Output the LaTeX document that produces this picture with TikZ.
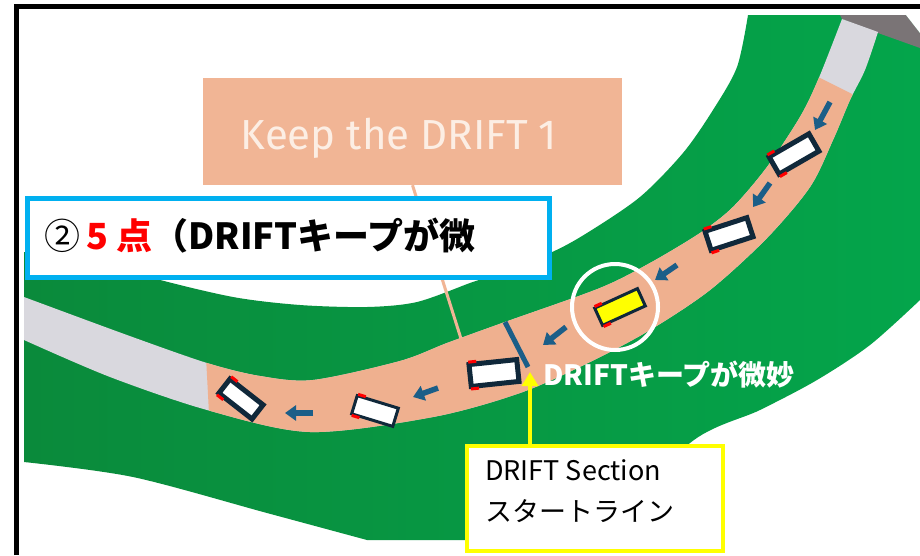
\documentclass[tikz,border=0pt]{standalone}
\usepackage{fontspec}
\newfontfamily\jpfont{Noto Sans CJK JP}
\newfontfamily\signfont{Fira Sans}
\usetikzlibrary{arrows.meta,calc}

\definecolor{grassdark}{HTML}{0A8A3B}
\definecolor{grasslight}{HTML}{04A54B}
\definecolor{driftzone}{HTML}{EFB08F}
\definecolor{asphalt}{HTML}{D9D8DE}
\definecolor{runoff}{HTML}{7A7476}
\definecolor{signpeach}{HTML}{F1B595}
\definecolor{signink}{HTML}{FCEEE4}
\definecolor{carnavy}{HTML}{10283A}
\definecolor{flowblue}{HTML}{1B5E88}
\definecolor{framecyan}{HTML}{00B0F0}
\definecolor{markyellow}{HTML}{FFFF00}

% grass band: inner edge, left side, outer edge
\newcommand{\grass}{plot[smooth] coordinates {(748,15) (737,67) (713,110) (683,153) (640,197) (587,233) (550,253) (490,276) (470,283) (417,302) (367,307) (300,305) (233,297) (153,278) (110,262) (24,252)} -- (24,462) -- plot[smooth] coordinates {(24,462) (133,477) (267,513) (367,540)} -- (600,540) -- plot[smooth] coordinates {(600,540) (690,443) (760,410) (817,380) (870,345) (920,300)} -- (920,15) -- cycle}
% track: inner edge down to the left, outer edge back up
\newcommand{\track}{plot[smooth] coordinates {(842,19) (818,80) (800,117) (767,167) (733,207) (700,233) (650,263) (600,288) (505,322) (447,343) (400,361) (313,380) (260,376) (207,363) (127,335) (24,297)} -- (24,340) -- plot[smooth] coordinates {(24,340) (110,377) (207,410) (310,432) (433,417) (520,393) (590,362) (650,330) (710,290) (767,238) (810,187) (833,140) (850,100) (865,70) (878,32)} -- cycle}

\begin{document}
\begin{tikzpicture}[x=1pt,y=-1pt,
  car/.style={draw=carnavy, fill=white, line width=5pt, inner sep=0pt},
  tail/.style={red, line width=3pt},
  flow/.style={flowblue, line width=5.5pt, -{Triangle[width=15pt,length=11pt]}},
  gate/.style={flowblue, line width=5pt},
  pointer/.style={markyellow, line width=4pt, -{Triangle[width=16pt,length=14pt]}}]

	\useasboundingbox (0,0) rectangle (920,555);
	\fill[white] (0,0) rectangle (920,555);
	\draw[line width=5pt] (16.5,555) -- (16.5,6) -- (920,6);

	% ground
	\shade[left color=grassdark, right color=grasslight] \grass;
	\fill[runoff] (840,15) -- (906,15) -- (920,33) -- (920,48) -- (878,33) -- (842,19) -- cycle;
	\fill[white] (906,15) -- (920,15) -- (920,33) -- cycle;

	% sign and its post
	\node[fill=signpeach, minimum width=419pt, minimum height=107pt, inner sep=0pt] (sign) at (412.5,131.5) {};
	\node[text=signink, font=\signfont\fontsize{42}{42}\selectfont] (signtext) at (399,138) {Keep the DRIFT 1};
	\coordinate (signfoot) at (463,345);
	\draw[signpeach, line width=3pt] (sign.south) -- (signfoot);

	% track, grey at both ends
	\fill[asphalt] \track;
	\begin{scope}
		\clip (203,300) -- (212,470) -- (920,470) -- (920,128) -- (760,48) -- (203,48) -- cycle;
		\fill[driftzone] \track;
	\end{scope}

	\coordinate (gatetop) at (505,322);
	\coordinate (gatefoot) at (528,367);
	\draw[gate] (gatetop) -- (gatefoot);

	\foreach \ax/\ay/\bx/\by in {830/102/815/130, 770/183/753/207, 677/265/655/280,
		566/327/543/345, 438/388/413/397, 313/413/285/413}
		\draw[flow] (\ax,\ay) -- (\bx,\by);

	% cars
	\node[car, rotate=30, minimum width=46pt, minimum height=20pt] (c1) at (794,154) {};
	\node[car, rotate=18, minimum width=44pt, minimum height=20pt] (c2) at (729,234) {};
	\node[car, line width=3pt, fill=markyellow, rotate=24.5, minimum width=47pt, minimum height=19pt] (c3) at (620,307) {};
	\node[car, rotate=6, minimum width=48pt, minimum height=22pt] (c4) at (494,373) {};
	\node[car, line width=3pt, rotate=-17, minimum width=43pt, minimum height=19pt] (c5) at (375,411) {};
	\node[car, rotate=-38, minimum width=42pt, minimum height=18pt] (c6) at (241,399) {};
	\foreach \c in {c1,c2,c3,c4,c5,c6} {
		\draw[tail] ($(\c.north west)!2pt!(\c.north east)$) -- ($(\c.north west)!10pt!(\c.north east)$);
		\draw[tail] ($(\c.south west)!2pt!(\c.south east)$) -- ($(\c.south west)!10pt!(\c.south east)$);
	}
	\node[draw=white, line width=4pt, circle, minimum size=86pt, inner sep=0pt] (ring) at (615,307) {};

	% captions
	\node[draw=framecyan, fill=white, line width=5pt, minimum width=522pt, minimum height=79pt, inner sep=0pt, anchor=north west] (score) at (24.5,195.5) {};
	\node[anchor=west, inner sep=0pt, font=\jpfont\bfseries\fontsize{36}{40}\selectfont] (scoretext) at (44,236) {{\mdseries ②}\hspace{6pt}{\color{red}5 点}（DRIFTキープが微};
	\node[anchor=west, inner sep=0pt, text=white, font=\jpfont\bfseries\fontsize{28}{30}\selectfont] (note) at (543,375) {DRIFTキープが微妙};

	\node[draw=markyellow, fill=white, line width=3.5pt, minimum width=256pt, minimum height=105pt, inner sep=0pt, anchor=north west] (callout) at (465,444) {};
	\node[anchor=north west, inner sep=0pt, align=left, font=\jpfont\fontsize{27}{41}\selectfont] (calltext) at (485,459) {DRIFT Section\\スタートライン};
	\coordinate (gatetip) at (530,372);
	\draw[pointer] (callout.north -| gatetip) -- (gatetip);
\end{tikzpicture}
\end{document}
